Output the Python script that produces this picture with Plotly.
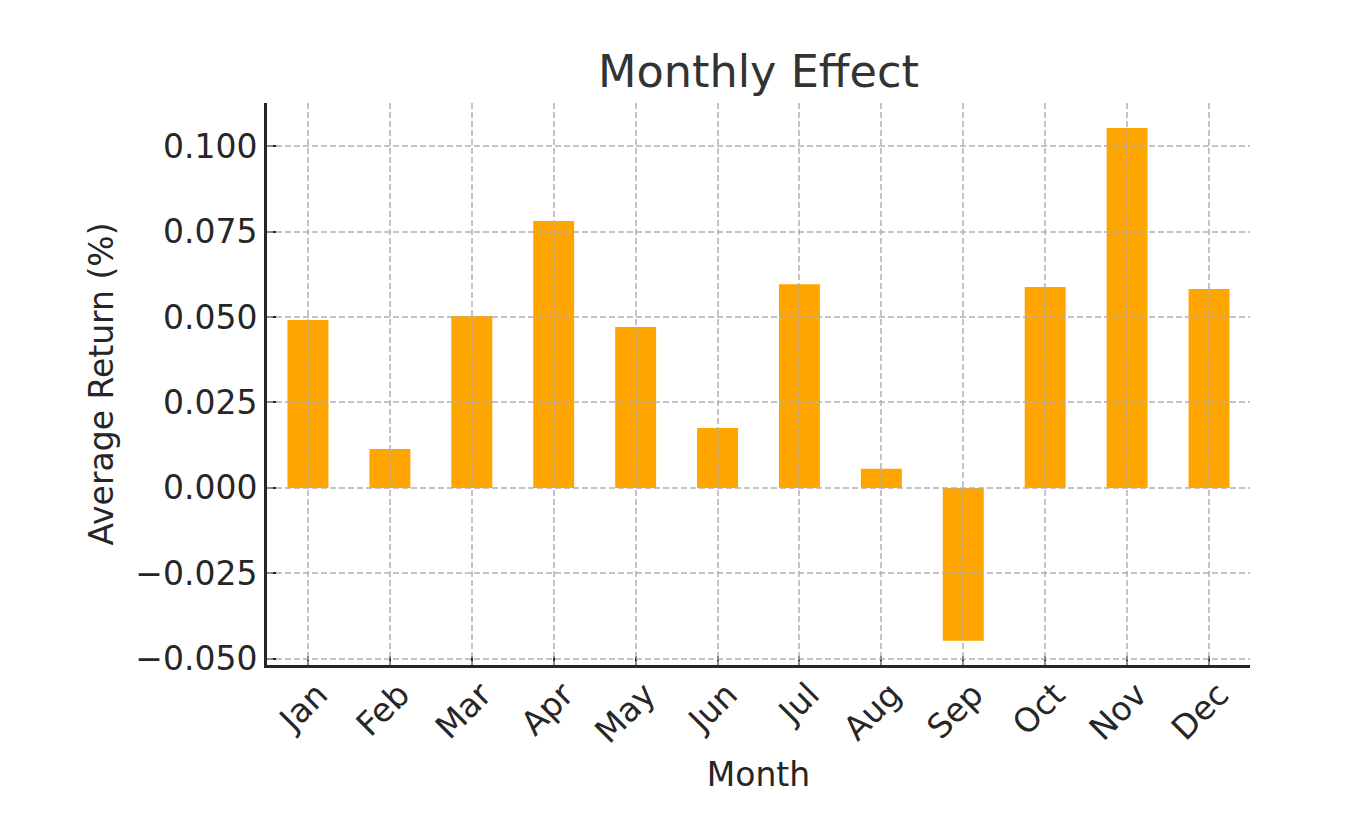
import plotly.graph_objects as go

months = ["Jan", "Feb", "Mar", "Apr", "May", "Jun", "Jul", "Aug", "Sep", "Oct", "Nov", "Dec"]
avg_return = [0.0491, 0.0114, 0.0503, 0.0781, 0.0471, 0.0175, 0.0596, 0.0056, -0.0447, 0.0588, 0.1053, 0.0582]

FONT = "DejaVu Sans"
TXT = "#262626"
Y_RANGE = [-0.0518, 0.1126]
X_RANGE = [-0.5, 11.5]

fig = go.Figure()
fig.add_trace(
    go.Bar(
        x=months,
        y=avg_return,
        marker=dict(color="#FFA500", line=dict(width=0)),
        width=0.5,
        xaxis="x",
        yaxis="y",
    )
)
# empty companion trace so a second (grid-only) subplot is drawn above the bars
fig.add_trace(
    go.Scatter(x=months, y=[None] * len(months), mode="markers", xaxis="x2", yaxis="y2",
               hoverinfo="skip", showlegend=False)
)

fig.update_layout(
    width=1360,
    height=829,
    paper_bgcolor="white",
    plot_bgcolor="rgba(0,0,0,0)",
    margin=dict(l=259, r=118, t=95, b=172),
    showlegend=False,
    font=dict(family=FONT, size=33, color=TXT),
    title=dict(
        text="Monthly Effect",
        x=0.5518,
        xanchor="center",
        y=0.923,
        yanchor="middle",
        font=dict(family=FONT, size=44.6, color="#333333"),
    ),
)

grid = dict(showgrid=True, gridcolor="rgba(176,176,176,0.75)", gridwidth=1.5, griddash="6px,3px")

fig.update_layout(
    xaxis=dict(
        domain=[0, 1],
        range=X_RANGE,
        tickangle=-45,
        ticks="inside",
        ticklen=9,
        tickwidth=2,
        tickcolor=TXT,
        showline=True,
        linecolor=TXT,
        linewidth=3,
        zeroline=False,
        showgrid=False,
        layer="above traces",
        ticklabelshift=10,
        ticklabelstandoff=-6,
        title=dict(text="Month", font=dict(size=33, color=TXT), standoff=14),
        tickfont=dict(size=33, color=TXT),
    ),
    yaxis=dict(
        domain=[0, 1],
        range=Y_RANGE,
        tick0=0,
        dtick=0.025,
        tickformat=".3f",
        ticks="inside",
        ticklen=9,
        tickwidth=2,
        tickcolor=TXT,
        showline=True,
        linecolor=TXT,
        linewidth=3,
        zeroline=False,
        showgrid=False,
        layer="above traces",
        title=dict(text="Average Return (%)", font=dict(size=33, color=TXT), standoff=12),
        tickfont=dict(size=33, color=TXT),
    ),
    xaxis2=dict(
        domain=[0, 1],
        anchor="y2",
        range=X_RANGE,
        type="category",
        categoryorder="array",
        categoryarray=months,
        showticklabels=False,
        ticks="",
        showline=False,
        zeroline=False,
        **grid,
    ),
    yaxis2=dict(
        domain=[0, 1],
        anchor="x2",
        range=Y_RANGE,
        tick0=0,
        dtick=0.025,
        showticklabels=False,
        ticks="",
        showline=False,
        zeroline=False,
        **grid,
    ),
)

fig.write_html("out.html")
